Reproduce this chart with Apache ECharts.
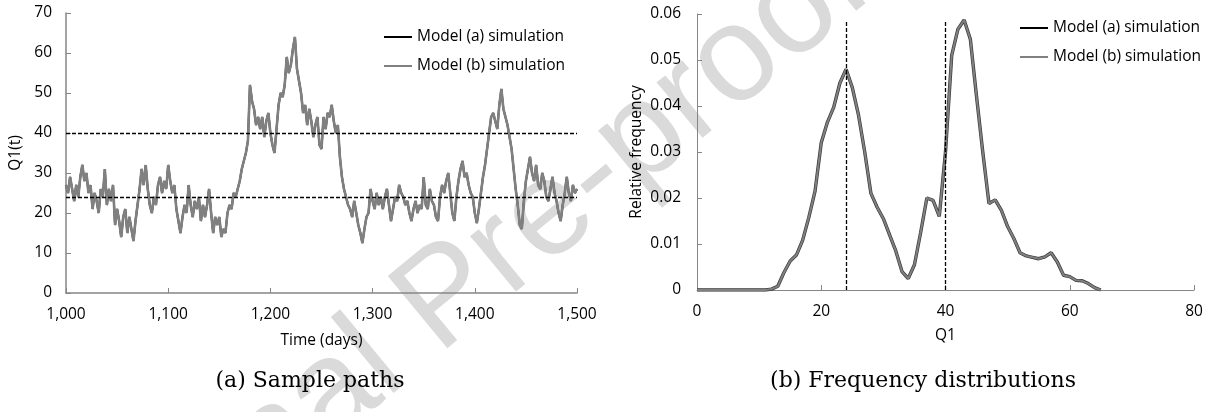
<!DOCTYPE html>
<html>
<head>
<meta charset="utf-8">
<title>Sample paths and frequency distributions</title>
<script src="https://cdn.jsdelivr.net/npm/echarts@6/dist/echarts.min.js"></script>
<style>
  html, body { margin: 0; padding: 0; background: #fff; }
  #chart { width: 1207px; height: 412px; }
</style>
</head>
<body>
<div id="chart"></div>
<script>
// (a) sample path of Q1(t), one reading every 2 days from day 1000
const pathStart = 1000;
const pathStep = 2;
const pathQ = [
  27, 25, 29, 26, 23, 27, 24, 29, 32, 28,
  30, 25, 27, 21, 25, 23, 20, 26, 24, 31,
  22, 26, 23, 27, 17, 21, 18, 14, 19, 21,
  15, 19, 16, 13, 18, 22, 26, 31, 27, 32,
  26, 22, 20, 24, 22, 27, 29, 25, 28, 26,
  32, 28, 25, 27, 21, 18, 15, 19, 22, 20,
  27, 22, 19, 23, 21, 24, 18, 22, 19, 22,
  26, 20, 15, 19, 17, 19, 14, 16, 15, 20,
  22, 21, 25, 24, 26, 28, 31, 33, 35, 38,
  52, 48, 46, 42, 44, 41, 44, 39, 43, 45,
  40, 37, 35, 41, 47, 50, 49, 52, 59, 55,
  57, 61, 64, 56, 53, 50, 45, 47, 42, 46,
  43, 39, 42, 44, 37, 36, 44, 41, 45, 44,
  47, 43, 40, 42, 34, 29, 26, 24, 22, 21,
  19, 23, 20, 17, 15, 12.5, 16, 19, 20, 26,
  23, 21, 25, 22, 24, 21, 24, 26, 22, 18,
  21, 24, 23, 27, 25, 24, 22, 23, 20, 18,
  21, 23, 20, 22, 21, 29, 22, 21, 26, 23,
  22, 19, 18, 24, 27, 25, 28, 30, 25, 20,
  18, 24, 28, 31, 33, 29, 30, 27, 25, 24,
  20, 17.5, 21, 25, 29, 32, 36, 40, 44, 45,
  43, 41, 47, 51, 46, 44, 42, 39, 36, 31,
  26, 22, 17, 16, 23, 28, 31, 34, 30, 28,
  32, 27, 26, 30, 28, 24, 23, 26, 29, 25,
  23, 20, 18, 22, 25, 29, 25, 23, 27, 25,
  26
];
// both models give the same path at this scale
const pathA = pathQ;
const pathB = pathQ;

// (b) relative frequency of Q1, bins 0..65
const freqBins = [
  0, 1, 2, 3, 4, 5, 6, 7, 8, 9, 10, 11, 12, 13, 14, 15, 16, 17, 18, 19, 20, 21,
  22, 23, 24, 25, 26, 27, 28, 29, 30, 31, 32, 33, 34, 35, 36, 37, 38, 39, 40, 41,
  42, 43, 44, 45, 46, 47, 48, 49, 50, 51, 52, 53, 54, 55, 56, 57, 58, 59, 60, 61,
  62, 63, 64, 65
];
const freqB = [
  0, 0, 0, 0, 0, 0, 0, 0, 0, 0, 0, 0,
  0.0002, 0.0008, 0.0038, 0.0063, 0.0076, 0.0108, 0.0158, 0.0215, 0.032, 0.0365,
  0.0397, 0.045, 0.048, 0.044, 0.038, 0.030, 0.021, 0.018, 0.0155, 0.012,
  0.0085, 0.004, 0.0025, 0.0055, 0.0125, 0.020, 0.0195, 0.016, 0.030, 0.051,
  0.0567, 0.0587, 0.0545, 0.042, 0.030, 0.0188, 0.0196, 0.0173, 0.0138, 0.0112,
  0.0081, 0.0074, 0.0071, 0.0068, 0.0072, 0.0081, 0.0061, 0.0032, 0.0029, 0.0021,
  0.002, 0.0014, 0.0005, 0
];
const freqA = freqB;

// reference levels (dashed lines)
const levels = [40, 24];
const levelTop = 0.0585;

const seriesNames = ['Model (a) simulation', 'Model (b) simulation'];
const captions = ['(a) Sample paths', '(b) Frequency distributions'];

const font = 'Open Sans';
const fs = 15.5;
const axisGray = '#868686';
const lineGray = '#808080';

const pathPairs = (arr) => arr.map((v, i) => [pathStart + i * pathStep, v]);
const freqPairs = (arr) => arr.map((v, i) => [freqBins[i], v]);

const txt = { fontFamily: font, fontSize: fs, color: '#000' };
const dashed = { color: '#000', type: [4, 2], width: 1.3 };

function axis(extra, lw) {
  return Object.assign({
    type: 'value',
    nameLocation: 'middle',
    nameTextStyle: txt,
    axisLine: { show: true, lineStyle: { color: axisGray, width: lw } },
    axisTick: { show: true, inside: true, length: 5, lineStyle: { color: axisGray, width: 1 } },
    axisLabel: Object.assign({ margin: 14 }, txt),
    splitLine: { show: false }
  }, extra);
}

const chart = echarts.init(document.getElementById('chart'), null, { renderer: 'canvas' });

const option = {
  backgroundColor: '#fff',
  animation: false,
  grid: [
    { left: 66, top: 13, width: 511, height: 280, outerBoundsMode: 'none' },
    { left: 697, top: 14, width: 497, height: 276, outerBoundsMode: 'none' }
  ],
  xAxis: [
    axis({
      gridIndex: 0, min: 1000, max: 1500, interval: 100, name: 'Time (days)', nameGap: 40,
      axisLabel: Object.assign({ margin: 14, formatter: (v) => v.toLocaleString('en-US') }, txt)
    }, 1.5),
    axis({ gridIndex: 1, min: 0, max: 80, interval: 20, name: 'Q1', nameGap: 38 }, 1)
  ],
  yAxis: [
    axis({ gridIndex: 0, min: 0, max: 70, interval: 10, name: 'Q1(t)', nameGap: 42 }, 1.5),
    axis({
      gridIndex: 1, min: 0, max: 0.06, interval: 0.01, name: 'Relative frequency', nameGap: 52,
      axisLabel: Object.assign({ margin: 16, formatter: (v) => (v === 0 ? '0' : v.toFixed(2)) }, txt)
    }, 1)
  ],
  legend: [
    {
      left: 379, top: 24, orient: 'vertical', icon: 'rect', itemWidth: 28, itemHeight: 2,
      itemGap: 13, textStyle: txt, data: seriesNames, selectedMode: false
    },
    {
      left: 1015, top: 15, orient: 'vertical', icon: 'rect', itemWidth: 28, itemHeight: 2,
      itemGap: 13, textStyle: txt, data: seriesNames, selectedMode: false
    }
  ],
  series: [
    {
      name: seriesNames[0], type: 'line', xAxisIndex: 0, yAxisIndex: 0,
      data: pathPairs(pathA), showSymbol: false, color: '#000',
      lineStyle: { color: '#000', width: 2 }
    },
    {
      name: seriesNames[1], type: 'line', xAxisIndex: 0, yAxisIndex: 0,
      data: pathPairs(pathB), showSymbol: false, color: lineGray,
      lineStyle: { color: lineGray, width: 2.6 },
      markLine: {
        silent: true, symbol: 'none', label: { show: false }, lineStyle: dashed,
        data: levels.map((l) => ({ yAxis: l }))
      }
    },
    {
      name: seriesNames[0], type: 'line', xAxisIndex: 1, yAxisIndex: 1,
      data: freqPairs(freqA), showSymbol: false, color: '#000',
      lineStyle: { color: '#3a3a3a', width: 3.4 }
    },
    {
      name: seriesNames[1], type: 'line', xAxisIndex: 1, yAxisIndex: 1,
      data: freqPairs(freqB), showSymbol: false, color: lineGray,
      lineStyle: { color: lineGray, width: 2 },
      markLine: {
        silent: true, symbol: 'none', label: { show: false }, lineStyle: dashed,
        data: levels.map((l) => [{ coord: [l, 0] }, { coord: [l, levelTop] }])
      }
    }
  ],
  graphic: [
    {
      type: 'text', x: 447, y: 300, rotation: 0.69, z: -1, silent: true,
      style: { text: 'Journal Pre-proof', font: '136px "Liberation Sans"', fill: '#dadada', align: 'center', verticalAlign: 'middle' }
    },
    {
      type: 'text', x: 310, y: 381,
      style: { text: captions[0], font: '22px "DejaVu Serif"', fill: '#000', align: 'center', verticalAlign: 'middle' }
    },
    {
      type: 'text', x: 923, y: 381,
      style: { text: captions[1], font: '22px "DejaVu Serif"', fill: '#000', align: 'center', verticalAlign: 'middle' }
    }
  ]
};

chart.setOption(option);
</script>
</body>
</html>
